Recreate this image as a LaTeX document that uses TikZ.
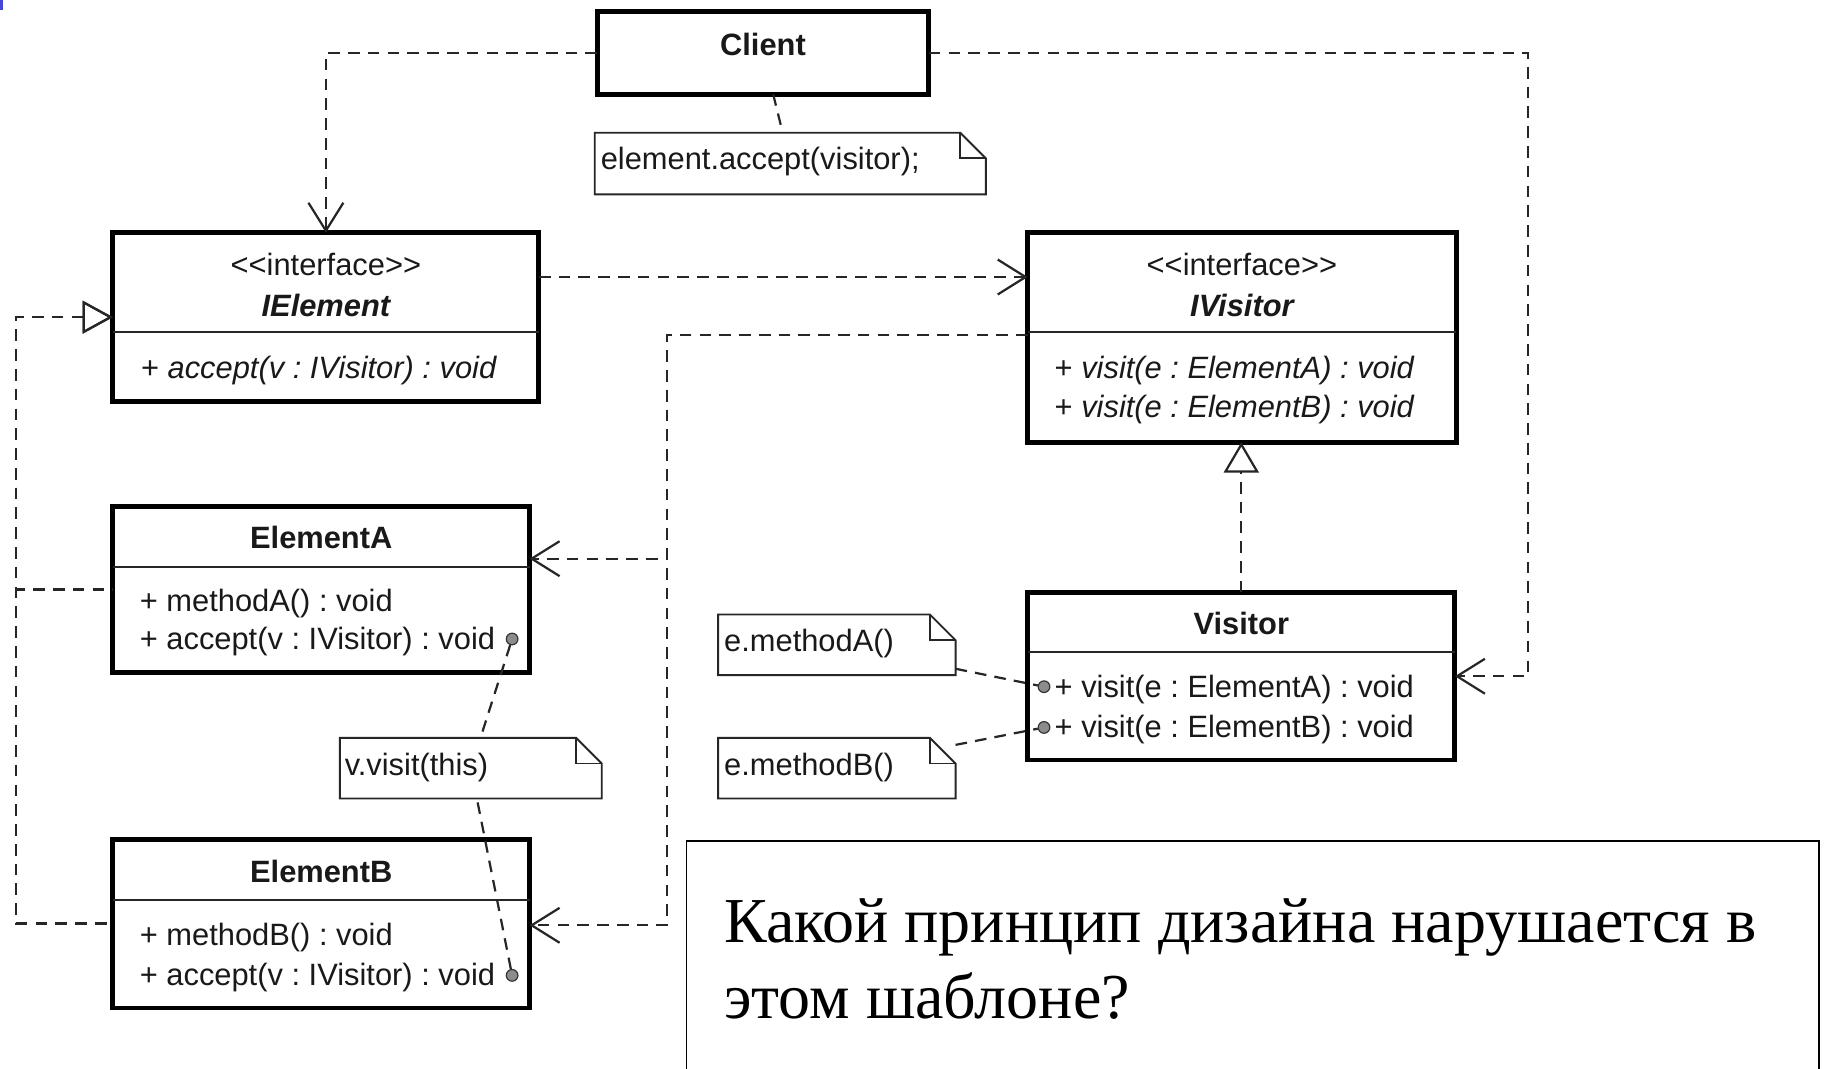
\documentclass[tikz,border=0pt]{standalone}
\usepackage{fontspec}
\setmainfont{Liberation Sans}
\newfontfamily\qfont{Liberation Serif}
\usetikzlibrary{arrows.meta}
\definecolor{cornermark}{RGB}{70,70,215}

% folded-corner outline of a UML note
\newcommand\umlnote[1]{%
  \draw[noteline] (#1.north west) -- ([xshift=-22pt]#1.north east)
    -- ([yshift=-22pt]#1.north east) -- (#1.south east) -- (#1.south west) -- cycle;
  \draw[noteline] ([xshift=-22pt]#1.north east) -- ([xshift=-22pt,yshift=-22pt]#1.north east)
    -- ([yshift=-22pt]#1.north east);}

\begin{document}
\begin{tikzpicture}[x=1pt,y=-1pt,
  umlbox/.style={draw=black, line width=4.2pt, inner sep=0pt, outer sep=0pt, anchor=north west},
  sepline/.style={line width=1.4pt, black!85},
  umltxt/.style={inner sep=0pt, font=\fontsize{26.5}{31}\selectfont\frenchspacing, text=black!90},
  nametxt/.style={umltxt, font=\fontsize{26.5}{31}\selectfont\bfseries, anchor=base},
  ifacetxt/.style={umltxt, font=\fontsize{26.5}{31}\selectfont\bfseries\itshape, anchor=base},
  stereotxt/.style={umltxt, anchor=base},
  optxt/.style={umltxt, anchor=base west},
  notebox/.style={inner sep=0pt, outer sep=0pt, anchor=north west},
  noteline/.style={line width=1.6pt, black!85},
  dep/.style={line width=1.9pt, dash pattern=on 10pt off 7pt, black!85},
  openhead/.style={arrows={-Straight Barb[length=24pt,width=30pt]}},
  realize/.style={arrows={Triangle[open,length=26pt,width=28pt]-}},
  realizeend/.style={arrows={-Triangle[open,length=26pt,width=30pt]}},
  joint/.style={circle, draw=black!80, fill=black!45, line width=1pt, inner sep=0pt, minimum size=10pt},
]
\useasboundingbox (0,0) rectangle (1568,918);
\fill[white] (0,0) rectangle (1568,918);
\clip (0,0) rectangle (1568,918);
\fill[cornermark] (0,0) rectangle (3,9);

% Client
\node[umlbox, minimum width=285pt, minimum height=71pt] (client) at (513,10) {};
\node[nametxt] (clientname) at (655.5,47.5) {Client};

% IElement
\node[umlbox, minimum width=366pt, minimum height=145pt] (ielement) at (97,200) {};
\node[stereotxt] (ielemstereo) at (280,237) {<{}<interface>{}>};
\node[ifacetxt] (ielemname) at (280,272) {IElement};
\draw[sepline] (ielement.west |- 0,285) -- (ielement.east |- 0,285);
\node[optxt] (ielemop) at (121,325) {+ \textit{accept(v : IVisitor) : void}};

% IVisitor
\node[umlbox, minimum width=368pt, minimum height=180pt] (ivisitor) at (883,200) {};
\node[stereotxt] (ivisstereo) at (1067,237) {<{}<interface>{}>};
\node[ifacetxt] (ivisname) at (1067,272) {IVisitor};
\draw[sepline] (ivisitor.west |- 0,285) -- (ivisitor.east |- 0,285);
\node[optxt] (ivisopa) at (906,325) {+ \textit{visit(e : ElementA) : void}};
\node[optxt] (ivisopb) at (906,359) {+ \textit{visit(e : ElementB) : void}};

% ElementA
\node[umlbox, minimum width=358pt, minimum height=143pt] (elementa) at (97,435) {};
\node[nametxt] (elemaname) at (276,471) {ElementA};
\draw[sepline] (elementa.west |- 0,487) -- (elementa.east |- 0,487);
\node[optxt] (elemaopa) at (120,525) {+ methodA() : void};
\node[optxt] (elemaopb) at (120,558) {+ accept(v : IVisitor) : void};
\node[joint] (dota) at (440,549) {};

% ElementB
\node[umlbox, minimum width=358pt, minimum height=145pt] (elementb) at (97,721) {};
\node[nametxt] (elembname) at (276,758) {ElementB};
\draw[sepline] (elementb.west |- 0,773) -- (elementb.east |- 0,773);
\node[optxt] (elembopa) at (120,812) {+ methodB() : void};
\node[optxt] (elembopb) at (120,847) {+ accept(v : IVisitor) : void};
\node[joint] (dotb) at (440,838) {};

% Visitor
\node[umlbox, minimum width=367pt, minimum height=144pt] (visitor) at (883,509) {};
\node[nametxt] (visname) at (1066.5,545) {Visitor};
\draw[sepline] (visitor.west |- 0,560) -- (visitor.east |- 0,560);
\node[optxt] (visopa) at (906,599) {+ visit(e : ElementA) : void};
\node[optxt] (visopb) at (906,634) {+ visit(e : ElementB) : void};
\node[joint] (dotva) at (897,590) {};
\node[joint] (dotvb) at (897,625) {};

% notes
\node[notebox, minimum width=336pt, minimum height=53pt] (note1) at (511,114) {};
\umlnote{note1}
\node[optxt] (note1txt) at (516,146) {element.accept(visitor);};
\node[notebox, minimum width=225pt, minimum height=52pt] (note2) at (292,634) {};
\umlnote{note2}
\node[optxt] (note2txt) at (296,666) {v.visit(this)};
\node[notebox, minimum width=204pt, minimum height=52pt] (note3) at (617,528) {};
\umlnote{note3}
\node[optxt] (note3txt) at (622,560) {e.methodA()};
\node[notebox, minimum width=204pt, minimum height=52pt] (note4) at (617,634) {};
\umlnote{note4}
\node[optxt] (note4txt) at (622,666) {e.methodB()};

% dependencies
\coordinate (rightbend) at (1313,45.5);
\draw[dep, openhead] (client.west) -| (ielement.north);
\draw[dep, openhead] (client.east) -- (rightbend) |- (visitor.east);
\draw[dep, openhead] (ielement.east |- 0,238) -- (ivisitor.west |- 0,238);
\draw[dep, openhead] (ivisitor.west |- 0,288) -| (573,480) -- (elementa.east |- 0,480);
\draw[dep, openhead] (ivisitor.west |- 0,288) -| (573,795) -- (elementb.east |- 0,795);

% realizations
\draw[dep, realize] (ielement.west) -| (14,506.5) -- (elementa.west);
\draw[dep, realize] (ielement.west) -| (14,793.5) -- (elementb.west);
\draw[dep, realizeend] (visitor.north) -- (visitor.north |- ivisitor.south);

% note links
\draw[dep] (client) -- (note1);
\draw[dep] (dota) -- (note2);
\draw[dep] (dotb) -- (note2);
\draw[dep] (note3) -- (dotva);
\draw[dep] (note4) -- (dotvb);

% question frame
\node[draw, line width=1.6pt, anchor=north west, inner sep=0pt,
      minimum width=973pt, minimum height=260pt] (qbox) at (589,722) {};
\node[inner sep=0pt, anchor=base west, align=left,
      font=\qfont\fontsize{55}{65}\selectfont] (qtext) at (622,875)
  {Какой принцип дизайна нарушается в\\этом шаблоне?};
\end{tikzpicture}
\end{document}
